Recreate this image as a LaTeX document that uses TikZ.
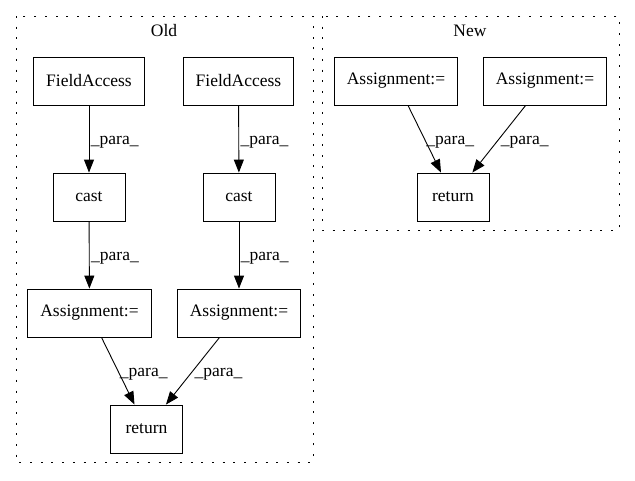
\documentclass[tikz,border=0pt]{standalone}
\usepackage{fontspec}
\setmainfont{Liberation Serif}
\usetikzlibrary{arrows.meta}

\begin{document}
\begin{tikzpicture}[
    x=1pt, y=-1pt,
    box/.style={rectangle, draw, line width=0.9pt, minimum width=72pt, minimum height=48pt, inner xsep=12.5pt, font=\fontsize{17.5}{20}\selectfont},
    cluster/.style={draw, line width=0.9pt, dash pattern=on 2pt off 8.7pt},
    arrow/.style={-{Triangle[length=13pt, width=10pt]}, line width=0.9pt},
    lbl/.style={anchor=west, inner sep=1.5pt, yshift=-3pt, font=\fontsize{17.5}{20}\selectfont}
]
\useasboundingbox (0,0) rectangle (635,480);

% clusters
\draw[cluster] (16,16) rectangle (313,462);
\draw[cluster] (322,16) rectangle (619,230);
\node[font=\fontsize{17.5}{20}\selectfont] (oldtitle) at (164,31) {Old};
\node[font=\fontsize{17.5}{20}\selectfont] (newtitle) at (470,31) {New};

% Old
\node[box] (field1) at (89,81) {FieldAccess};
\node[box] (field2) at (238.5,81) {FieldAccess};
\node[box] (cast1) at (89,197) {cast};
\node[box] (cast2) at (239,197) {cast};
\node[box] (assign1) at (89.5,313) {Assignment:=};
\node[box] (assign2) at (239,313) {Assignment:=};
\node[box] (ret) at (146.5,429) {return};

\draw[arrow] (field1) -- node[lbl] {\_para\_} (cast1);
\draw[arrow] (field2) -- node[lbl] {\_para\_} (cast2);
\draw[arrow] (cast1) -- node[lbl] {\_para\_} (assign1);
\draw[arrow] (cast2) -- node[lbl] {\_para\_} (assign2);
\draw[arrow] (assign1) -- node[lbl] {\_para\_} (ret);
\draw[arrow] (assign2) -- node[lbl] {\_para\_} (ret);

% New
\node[box] (newassign1) at (396,81) {Assignment:=};
\node[box] (newassign2) at (545,81) {Assignment:=};
\node[box] (newret) at (453,197) {return};

\draw[arrow] (newassign1) -- node[lbl] {\_para\_} (newret);
\draw[arrow] (newassign2) -- node[lbl] {\_para\_} (newret);
\end{tikzpicture}
\end{document}
